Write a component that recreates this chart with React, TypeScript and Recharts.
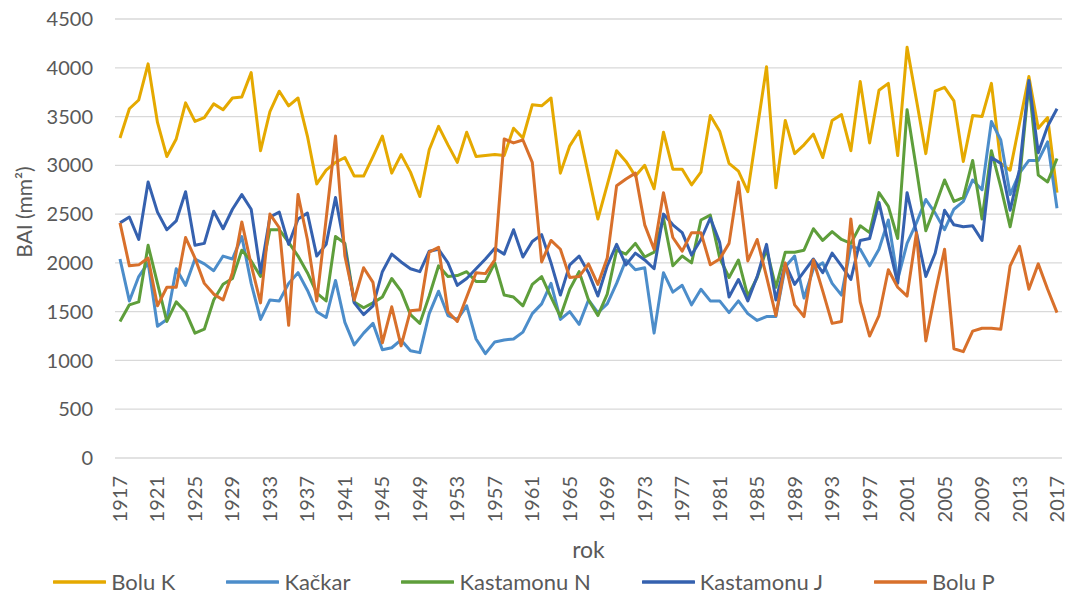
import { LineChart, Line, XAxis, YAxis, CartesianGrid, Legend, Label } from "recharts";

const YEARS = [
  1917, 1918, 1919, 1920, 1921, 1922, 1923, 1924, 1925, 1926,
  1927, 1928, 1929, 1930, 1931, 1932, 1933, 1934, 1935, 1936,
  1937, 1938, 1939, 1940, 1941, 1942, 1943, 1944, 1945, 1946,
  1947, 1948, 1949, 1950, 1951, 1952, 1953, 1954, 1955, 1956,
  1957, 1958, 1959, 1960, 1961, 1962, 1963, 1964, 1965, 1966,
  1967, 1968, 1969, 1970, 1971, 1972, 1973, 1974, 1975, 1976,
  1977, 1978, 1979, 1980, 1981, 1982, 1983, 1984, 1985, 1986,
  1987, 1988, 1989, 1990, 1991, 1992, 1993, 1994, 1995, 1996,
  1997, 1998, 1999, 2000, 2001, 2002, 2003, 2004, 2005, 2006,
  2007, 2008, 2009, 2010, 2011, 2012, 2013, 2014, 2015, 2016,
  2017,
];

const BOLU_K = [
  3280, 3580, 3670, 4040, 3440, 3090, 3270, 3640, 3450, 3490,
  3630, 3570, 3690, 3700, 3950, 3150, 3550, 3760, 3610, 3690,
  3300, 2810, 2950, 3030, 3080, 2890, 2890, 3090, 3300, 2920,
  3110, 2930, 2680, 3160, 3400, 3210, 3030, 3340, 3090, 3100,
  3110, 3100, 3380, 3280, 3620, 3610, 3690, 2920, 3200, 3350,
  2900, 2450, 2800, 3150, 3040, 2890, 3000, 2760, 3340, 2960,
  2960, 2800, 2930, 3510, 3350, 3020, 2940, 2730, 3370, 4010,
  2770, 3460, 3120, 3210, 3320, 3080, 3460, 3520, 3150, 3860,
  3230, 3770, 3840, 3100, 4210, 3670, 3120, 3760, 3800, 3660,
  3040, 3510, 3500, 3840, 3020, 2950, 3430, 3910, 3380, 3490,
  2720,
];

const KACKAR = [
  2040, 1610, 1860, 2000, 1350, 1420, 1940, 1770, 2040, 1990,
  1920, 2070, 2040, 2270, 1790, 1420, 1620, 1610, 1790, 1900,
  1720, 1500, 1440, 1820, 1390, 1160, 1280, 1380, 1110, 1130,
  1210, 1100, 1080, 1480, 1710, 1460, 1420, 1560, 1220, 1070,
  1190, 1210, 1220, 1290, 1480, 1580, 1790, 1420, 1500, 1370,
  1620, 1490, 1580, 1790, 2030, 1930, 1950, 1280, 1900, 1700,
  1770, 1570, 1730, 1610, 1610, 1490, 1610, 1480, 1410, 1450,
  1450, 1960, 2070, 1640, 1940, 2000, 1790, 1670, 2170, 2140,
  1970, 2140, 2440, 1830, 2200, 2410, 2650, 2510, 2340, 2550,
  2630, 2850, 2750, 3450, 3260, 2700, 2920, 3050, 3050, 3240,
  2560,
];

const KASTAMONU_N = [
  1400, 1570, 1600, 2180, 1790, 1400, 1600, 1500, 1280, 1320,
  1620, 1780, 1840, 2130, 2020, 1860, 2340, 2340, 2210, 2070,
  1900, 1690, 1610, 2270, 2200, 1600, 1540, 1590, 1650, 1840,
  1710, 1470, 1380, 1660, 1970, 1860, 1870, 1910, 1810, 1810,
  2000, 1670, 1650, 1560, 1780, 1860, 1650, 1450, 1730, 1910,
  1620, 1460, 1680, 2130, 2090, 2200, 2060, 2110, 2460, 1970,
  2070, 2000, 2440, 2490, 2050, 1850, 2030, 1660, 1850, 2140,
  1750, 2110, 2110, 2130, 2350, 2230, 2320, 2240, 2200, 2380,
  2310, 2720, 2580, 2250, 3570, 2960, 2330, 2580, 2850, 2630,
  2670, 3050, 2450, 3150, 2780, 2370, 2850, 3840, 2900, 2830,
  3070,
];

const KASTAMONU_J = [
  2410, 2470, 2240, 2830, 2520, 2340, 2430, 2730, 2180, 2200,
  2530, 2350, 2550, 2700, 2550, 1900, 2470, 2520, 2190, 2450,
  2510, 2070, 2190, 2670, 2150, 1590, 1470, 1560, 1910, 2090,
  2010, 1940, 1910, 2120, 2140, 2000, 1770, 1840, 1940, 2040,
  2150, 2090, 2340, 2060, 2220, 2290, 2000, 1670, 1980, 2070,
  1900, 1660, 1970, 2190, 1980, 2100, 2030, 1940, 2500, 2390,
  2310, 2080, 2240, 2460, 2210, 1650, 1830, 1610, 1860, 2190,
  1620, 1990, 1780, 1910, 2040, 1900, 2100, 1970, 1830, 2230,
  2250, 2620, 2200, 1790, 2720, 2310, 1860, 2100, 2540, 2390,
  2370, 2380, 2230, 3080, 3020, 2540, 2960, 3870, 3130, 3400,
  3580,
];

const BOLU_P = [
  2410, 1970, 1980, 2050, 1560, 1750, 1750, 2260, 2050, 1790,
  1680, 1620, 1900, 2420, 1980, 1590, 2500, 2360, 1360, 2700,
  2240, 1610, 2450, 3300, 2070, 1620, 1950, 1800, 1180, 1550,
  1150, 1510, 1520, 2110, 2160, 1500, 1400, 1650, 1900, 1890,
  2030, 3270, 3230, 3260, 3030, 2010, 2230, 2140, 1850, 1860,
  1990, 1780, 2050, 2790, 2860, 2920, 2390, 2140, 2720, 2260,
  2120, 2310, 2310, 1980, 2040, 2200, 2830, 2020, 2240, 1860,
  1460, 2000, 1570, 1450, 2030, 1710, 1380, 1400, 2450, 1600,
  1250, 1460, 1930, 1750, 1660, 2310, 1200, 1690, 2140, 1120,
  1090, 1300, 1330, 1330, 1320, 1970, 2170, 1730, 1990, 1730,
  1490,
];

const Y_TICKS = [0, 500, 1000, 1500, 2000, 2500, 3000, 3500, 4000, 4500];

const SERIES = [
  { key: "boluK", name: "Bolu K", color: "#E5A900" },
  { key: "kackar", name: "Kačkar", color: "#4C8DCA" },
  { key: "kastamonuN", name: "Kastamonu N", color: "#5E9E3B" },
  { key: "kastamonuJ", name: "Kastamonu J", color: "#3561AF" },
  { key: "boluP", name: "Bolu P", color: "#D8702B" },
];

const data = YEARS.map((year, i) => ({
  year,
  boluK: BOLU_K[i],
  kackar: KACKAR[i],
  kastamonuN: KASTAMONU_N[i],
  kastamonuJ: KASTAMONU_J[i],
  boluP: BOLU_P[i],
}));

const TEXT = "#595959";
const FONT = "Lato, 'Noto Sans', sans-serif";

const YearTick = ({ x, y, payload }: any) => (
  <text
    x={x}
    y={y}
    transform={`rotate(-90 ${x} ${y})`}
    textAnchor="end"
    dy="0.35em"
    fill={TEXT}
    fontSize={20}
    fontFamily={FONT}
  >
    {payload.value}
  </text>
);

// legend drawn in series order (recharts would sort it by name)
const renderLegend = () => (
  <div
    style={{
      height: 40,
      display: "flex",
      alignItems: "flex-end",
      justifyContent: "center",
      gap: 51,
      fontFamily: FONT,
      fontSize: 22,
      color: TEXT,
      boxSizing: "border-box",
      paddingBottom: 1,
      paddingRight: 14,
    }}
  >
    {SERIES.map((s) => (
      <span key={s.key} style={{ display: "inline-flex", alignItems: "center", lineHeight: "22px" }}>
        <svg width={53} height={4} style={{ display: "block" }}>
          <line x1={1} y1={2} x2={52} y2={2} stroke={s.color} strokeWidth={3.5} strokeLinecap="round" />
        </svg>
        <span style={{ marginLeft: 5 }}>{s.name}</span>
      </span>
    ))}
  </div>
);

export default function App() {
  return (
    <div style={{ position: "absolute", left: 0, top: 0, background: "#fff" }}>
      <LineChart
        width={1070}
        height={594}
        data={data}
        margin={{ top: 19, right: 8, bottom: 0, left: 0 }}
        style={{ fontFamily: FONT }}
      >
        <CartesianGrid vertical={false} stroke="#D9D9D9" strokeWidth={1.3} />
        <XAxis
          dataKey="year"
          interval={3}
          padding={{ left: 5, right: 5 }}
          height={96}
          axisLine={false}
          tickLine={false}
          tickMargin={12}
          tick={<YearTick />}
        >
          <Label value="rok" position="insideBottom" offset={-4} fill={TEXT} fontSize={23} fontFamily={FONT} />
        </XAxis>
        <YAxis
          width={115}
          domain={[0, 4500]}
          ticks={Y_TICKS}
          interval={0}
          axisLine={false}
          tickLine={false}
          tickSize={6}
          tickMargin={16}
          tick={{ fill: TEXT, fontSize: 20, fontFamily: FONT }}
        >
          <Label
            content={() => (
              <text
                x={23}
                y={212}
                transform="rotate(-90 23 212)"
                textAnchor="middle"
                dominantBaseline="central"
                fill={TEXT}
                fontSize={21}
                fontFamily={FONT}
              >
                BAI (mm²)
              </text>
            )}
          />
        </YAxis>
        <Legend verticalAlign="bottom" height={40} content={renderLegend} />
        {SERIES.map((s) => (
          <Line
            key={s.key}
            type="linear"
            dataKey={s.key}
            name={s.name}
            stroke={s.color}
            strokeWidth={3}
            strokeLinejoin="round"
            dot={false}
            activeDot={false}
            isAnimationActive={false}
          />
        ))}
      </LineChart>
    </div>
  );
}
